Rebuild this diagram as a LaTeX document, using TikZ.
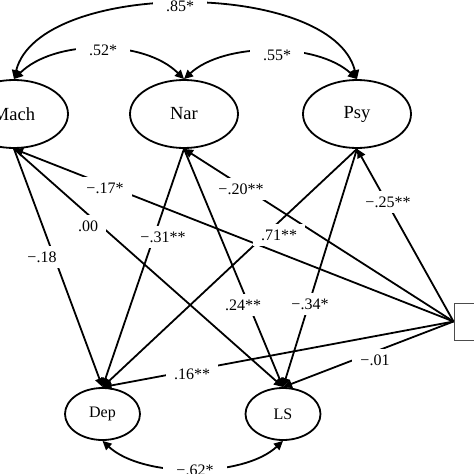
\documentclass[tikz,border=0pt]{standalone}
\usepackage{fontspec}
\setmainfont{Liberation Serif}
\usetikzlibrary{shapes.geometric,arrows.meta}
\begin{document}
\begin{tikzpicture}[x=1pt,y=-1pt,
  lat/.style={ellipse,draw,line width=1.8pt,minimum width=108pt,minimum height=68pt,inner sep=0pt,font=\fontsize{18.5}{20}\selectfont},
  outc/.style={ellipse,draw,line width=1.8pt,minimum width=75pt,minimum height=52pt,inner sep=0pt,font=\fontsize{16}{18}\selectfont},
  arr/.style={line width=1.8pt,-{Triangle[length=9pt,width=8.5pt]}},
  cov/.style={line width=1.8pt,{Triangle[length=9pt,width=8.5pt]}-{Triangle[length=9pt,width=8.5pt]}},
  lbl/.style={fill=white,inner xsep=8pt,inner ysep=6pt,font=\fontsize{16}{18}\selectfont},
  arclbl/.style={lbl,inner xsep=13pt,inner ysep=4pt}]
\useasboundingbox (0,0) rectangle (474,474);
% nodes
\node[lat] (Mach) at (14,114) {Mach};
\node[lat] (Nar) at (184,114) {Nar};
\node[lat] (Psy) at (357,114) {Psy};
\node[outc] (Dep) at (102.5,414) {Dep};
\node[outc] (LS) at (283,414) {LS};
\node[draw=black!70,line width=1pt,minimum width=40pt,minimum height=37pt,inner sep=0pt] (X) at (474,321.5) {};
% paths
\draw[arr] (X.west) -- (Mach.south);
\draw[arr] (X.west) -- (Nar.south);
\draw[arr] (X.west) -- (Psy.south);
\draw[arr] (X.west) -- (Dep.north);
\draw[arr] (X.west) -- (LS.north);
\draw[arr] (Mach.south) -- (Dep.north);
\draw[arr] (Mach.south) -- (LS.north);
\draw[arr] (Nar.south) -- (Dep.north);
\draw[arr] (Nar.south) -- (LS.north);
\draw[arr] (Psy.south) -- (Dep.north);
\draw[arr] (Psy.south) -- (LS.north);
% covariances
\draw[cov] (Mach.north) .. controls +(25,-100) and +(-25,-100) .. (Psy.north);
\draw[cov] (Mach.north) .. controls +(40,-40) and +(-40,-40) .. (Nar.north);
\draw[cov] (Nar.north) .. controls +(40,-37) and +(-40,-37) .. (Psy.north);
\draw[cov] (Dep.south) .. controls +(40,37) and +(-40,37) .. (LS.south);
% labels
\node[arclbl] (l85) at (180,6) {.85*};
\node[arclbl] (l52) at (103,50) {.52*};
\node[arclbl] (l55) at (277,55) {.55*};
\node[arclbl] (l62) at (195,470) {−.62*};
\node[lbl] (l17) at (105,188) {−.17*};
\node[lbl] (l00) at (88,226) {.00};
\node[lbl] (l18) at (42,257) {−.18};
\node[lbl] (l31) at (163,237) {−.31**};
\node[lbl] (l20) at (241,189) {−.20**};
\node[lbl] (l71) at (279,235) {.71**};
\node[lbl] (l25) at (388,202) {−.25**};
\node[lbl] (l24) at (243,305) {.24**};
\node[lbl] (l34) at (310,304) {−.34*};
\node[lbl] (l16) at (192,374) {.16**};
\node[lbl] (l01) at (375,360) {−.01};
\end{tikzpicture}
\end{document}
